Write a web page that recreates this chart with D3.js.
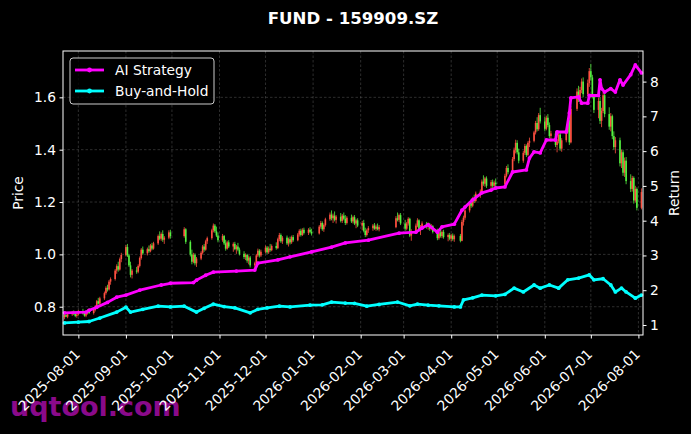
<!DOCTYPE html>
<html>
<head>
<meta charset="utf-8">
<script src="https://cdn.jsdelivr.net/npm/d3@7"></script>
<style>
  body { margin: 0; background: #000; }
  svg { display: block; font-family: "DejaVu Sans", sans-serif; }
</style>
</head>
<body>
<svg id="chart" width="691" height="434"></svg>
<script>
// data
const title = "FUND - 159909.SZ";
const monthTicks = ["2025-08-01","2025-09-01","2025-10-01","2025-11-01","2025-12-01","2026-01-01",
  "2026-02-01","2026-03-01","2026-04-01","2026-05-01","2026-06-01","2026-07-01","2026-08-01"];
const priceTicks = [0.8, 1.0, 1.2, 1.4, 1.6];
const returnTicks = [1, 2, 3, 4, 5, 6, 7, 8];
const seriesNames = ["AI Strategy", "Buy-and-Hold"];

// daily candles: date, open, high, low, close
const candles = [
  ["2025-07-23",.760,.772,.752,.768],["2025-07-24",.768,.778,.760,.762],["2025-07-25",.762,.775,.756,.771],
  ["2025-07-28",.771,.784,.765,.779],["2025-07-29",.779,.786,.768,.772],["2025-07-30",.772,.780,.760,.765],["2025-07-31",.765,.776,.758,.770],["2025-08-01",.770,.788,.766,.784],
  ["2025-08-04",.784,.792,.770,.774],["2025-08-05",.774,.782,.762,.766],["2025-08-06",.766,.778,.760,.775],["2025-08-07",.775,.790,.770,.786],["2025-08-08",.786,.794,.772,.776],
  ["2025-08-11",.776,.790,.770,.788],["2025-08-12",.788,.806,.782,.801],["2025-08-13",.801,.826,.796,.821],["2025-08-14",.821,.834,.808,.812],["2025-08-15",.812,.838,.806,.832],
  ["2025-08-18",.832,.858,.826,.852],["2025-08-19",.852,.878,.846,.872],["2025-08-20",.872,.884,.858,.866],["2025-08-21",.866,.902,.862,.896],["2025-08-22",.896,.912,.884,.906],
  ["2025-08-25",.906,.944,.900,.938],["2025-08-26",.938,.962,.926,.955],["2025-08-27",.955,.972,.934,.942],["2025-08-28",.942,.988,.938,.982],["2025-08-29",.982,1.006,.970,.998],
  ["2025-09-01",.998,1.036,.992,1.028],["2025-09-02",1.028,1.040,.990,.996],["2025-09-03",.996,1.002,.952,.958],["2025-09-04",.958,.972,.912,.922],["2025-09-05",.922,.944,.908,.938],
  ["2025-09-08",.938,.952,.926,.934],["2025-09-09",.934,.962,.928,.956],["2025-09-10",.956,.992,.950,.986],["2025-09-11",.986,1.024,.980,1.018],["2025-09-12",1.018,1.030,.998,1.004],
  ["2025-09-15",1.004,1.026,.996,1.020],["2025-09-16",1.020,1.034,1.006,1.012],["2025-09-17",1.012,1.040,1.008,1.034],["2025-09-18",1.034,1.044,1.016,1.022],["2025-09-19",1.022,1.048,1.018,1.042],
  ["2025-09-22",1.042,1.076,1.036,1.070],["2025-09-23",1.070,1.088,1.054,1.060],["2025-09-24",1.060,1.084,1.052,1.078],["2025-09-25",1.078,1.092,1.048,1.056],["2025-09-26",1.056,1.070,1.040,1.064],
  ["2025-09-29",1.064,1.092,1.058,1.084],["2025-09-30",1.084,1.094,1.060,1.070],
  ["2025-10-09",1.070,1.104,1.064,1.096],["2025-10-10",1.096,1.100,1.040,1.048],
  ["2025-10-13",1.048,1.054,.992,1.000],["2025-10-14",1.000,1.018,.962,.972],["2025-10-15",.972,1.006,.966,.998],["2025-10-16",.998,1.004,.958,.966],["2025-10-17",.966,.990,.952,.984],
  ["2025-10-20",.984,1.012,.978,1.006],["2025-10-21",1.006,1.036,1.000,1.030],["2025-10-22",1.030,1.040,1.010,1.018],["2025-10-23",1.018,1.056,1.014,1.050],["2025-10-24",1.050,1.068,1.040,1.062],
  ["2025-10-27",1.062,1.098,1.056,1.092],["2025-10-28",1.092,1.118,1.084,1.110],["2025-10-29",1.110,1.116,1.082,1.088],["2025-10-30",1.088,1.106,1.066,1.072],["2025-10-31",1.072,1.084,1.046,1.054],
  ["2025-11-03",1.054,1.078,1.048,1.070],["2025-11-04",1.070,1.074,1.036,1.042],["2025-11-05",1.042,1.056,1.014,1.022],["2025-11-06",1.022,1.052,1.018,1.046],["2025-11-07",1.046,1.054,1.024,1.030],
  ["2025-11-10",1.030,1.046,1.010,1.040],["2025-11-11",1.040,1.048,1.016,1.020],["2025-11-12",1.020,1.036,1.002,1.030],["2025-11-13",1.030,1.044,1.012,1.018],["2025-11-14",1.018,1.026,.996,1.002],
  ["2025-11-17",1.002,1.012,.982,.990],["2025-11-18",.990,1.004,.978,.998],["2025-11-19",.998,1.002,.968,.976],["2025-11-20",.976,.996,.962,.988],["2025-11-21",.988,.994,.950,.958],
  ["2025-11-24",.958,.972,.944,.966],["2025-11-25",.966,1.002,.960,.996],["2025-11-26",.996,1.022,.990,1.014],["2025-11-27",1.014,1.020,.988,.996],["2025-11-28",.996,1.018,.990,1.010],
  ["2025-12-01",1.010,1.034,1.004,1.026],["2025-12-02",1.026,1.032,1.002,1.008],["2025-12-03",1.008,1.030,1.002,1.022],["2025-12-04",1.022,1.040,1.010,1.016],["2025-12-05",1.016,1.038,1.012,1.032],
  ["2025-12-08",1.032,1.046,1.018,1.024],["2025-12-09",1.024,1.064,1.020,1.058],["2025-12-10",1.058,1.082,1.050,1.074],["2025-12-11",1.074,1.080,1.044,1.050],["2025-12-12",1.050,1.070,1.040,1.064],
  ["2025-12-15",1.064,1.072,1.036,1.042],["2025-12-16",1.042,1.064,1.030,1.058],["2025-12-17",1.058,1.068,1.038,1.046],["2025-12-18",1.046,1.072,1.040,1.066],["2025-12-19",1.066,1.074,1.048,1.054],
  ["2025-12-22",1.054,1.082,1.050,1.076],["2025-12-23",1.076,1.096,1.068,1.090],["2025-12-24",1.090,1.098,1.068,1.074],["2025-12-25",1.074,1.100,1.070,1.094],["2025-12-26",1.094,1.102,1.076,1.082],
  ["2025-12-29",1.082,1.100,1.074,1.094],["2025-12-30",1.094,1.104,1.080,1.086],["2025-12-31",1.086,1.098,1.072,1.080],
  ["2026-01-05",1.080,1.112,1.076,1.106],["2026-01-06",1.106,1.128,1.098,1.120],["2026-01-07",1.120,1.126,1.090,1.096],["2026-01-08",1.096,1.118,1.086,1.112],["2026-01-09",1.112,1.140,1.106,1.134],
  ["2026-01-12",1.134,1.160,1.128,1.152],["2026-01-13",1.152,1.168,1.130,1.138],["2026-01-14",1.138,1.156,1.120,1.148],["2026-01-15",1.148,1.164,1.126,1.132],["2026-01-16",1.132,1.150,1.118,1.144],
  ["2026-01-19",1.144,1.158,1.122,1.128],["2026-01-20",1.128,1.154,1.120,1.148],["2026-01-21",1.148,1.160,1.130,1.136],["2026-01-22",1.136,1.150,1.112,1.120],["2026-01-23",1.120,1.146,1.114,1.140],
  ["2026-01-26",1.140,1.152,1.120,1.126],["2026-01-27",1.126,1.148,1.118,1.142],["2026-01-28",1.142,1.150,1.112,1.118],["2026-01-29",1.118,1.136,1.100,1.130],["2026-01-30",1.130,1.138,1.104,1.110],
  ["2026-02-02",1.110,1.128,1.092,1.120],["2026-02-03",1.120,1.132,1.084,1.090],["2026-02-04",1.090,1.102,1.066,1.074],["2026-02-05",1.074,1.098,1.068,1.092],["2026-02-06",1.092,1.108,1.082,1.100],
  ["2026-02-09",1.100,1.116,1.090,1.110],["2026-02-10",1.110,1.120,1.094,1.098],["2026-02-11",1.098,1.114,1.090,1.106],["2026-02-12",1.106,1.118,1.092,1.096],["2026-02-13",1.096,1.112,1.088,1.104],
  ["2026-02-24",1.104,1.146,1.100,1.138],["2026-02-25",1.138,1.160,1.126,1.132],["2026-02-26",1.132,1.156,1.124,1.150],["2026-02-27",1.150,1.158,1.112,1.118],
  ["2026-03-02",1.118,1.132,1.090,1.098],["2026-03-03",1.098,1.124,1.092,1.118],["2026-03-04",1.118,1.142,1.110,1.136],["2026-03-05",1.136,1.140,1.066,1.072],["2026-03-06",1.072,1.096,1.052,1.088],
  ["2026-03-09",1.088,1.118,1.082,1.110],["2026-03-10",1.110,1.138,1.104,1.130],["2026-03-11",1.130,1.134,1.086,1.094],["2026-03-12",1.094,1.112,1.074,1.104],["2026-03-13",1.104,1.126,1.098,1.118],
  ["2026-03-16",1.118,1.124,1.098,1.106],["2026-03-17",1.106,1.122,1.094,1.114],["2026-03-18",1.114,1.120,1.090,1.098],["2026-03-19",1.098,1.116,1.092,1.108],["2026-03-20",1.108,1.112,1.080,1.086],
  ["2026-03-23",1.086,1.098,1.054,1.062],["2026-03-24",1.062,1.090,1.056,1.084],["2026-03-25",1.084,1.096,1.064,1.070],["2026-03-26",1.070,1.092,1.062,1.086],["2026-03-27",1.086,1.094,1.060,1.066],
  ["2026-03-30",1.066,1.080,1.050,1.074],["2026-03-31",1.074,1.082,1.054,1.060],["2026-04-01",1.060,1.078,1.050,1.072],["2026-04-02",1.072,1.080,1.052,1.058],["2026-04-03",1.058,1.076,1.048,1.070],
  ["2026-04-07",1.070,1.078,1.046,1.052],["2026-04-08",1.052,1.132,1.050,1.124],["2026-04-09",1.124,1.148,1.110,1.140],["2026-04-10",1.140,1.176,1.132,1.168],
  ["2026-04-13",1.168,1.204,1.160,1.196],["2026-04-14",1.196,1.212,1.178,1.186],["2026-04-15",1.186,1.220,1.180,1.214],["2026-04-16",1.214,1.228,1.196,1.204],["2026-04-17",1.204,1.240,1.198,1.232],
  ["2026-04-20",1.232,1.248,1.216,1.240],["2026-04-21",1.240,1.286,1.236,1.278],["2026-04-22",1.278,1.302,1.262,1.270],["2026-04-23",1.270,1.296,1.258,1.290],["2026-04-24",1.290,1.298,1.254,1.262],
  ["2026-04-27",1.262,1.284,1.246,1.276],["2026-04-28",1.276,1.286,1.254,1.262],["2026-04-29",1.262,1.282,1.250,1.274],["2026-04-30",1.274,1.290,1.258,1.268],
  ["2026-05-06",1.268,1.308,1.264,1.300],["2026-05-07",1.300,1.338,1.294,1.330],["2026-05-08",1.330,1.344,1.306,1.314],
  ["2026-05-11",1.314,1.372,1.308,1.364],["2026-05-12",1.364,1.408,1.356,1.398],["2026-05-13",1.398,1.438,1.386,1.426],["2026-05-14",1.426,1.436,1.382,1.390],["2026-05-15",1.390,1.404,1.348,1.358],
  ["2026-05-18",1.358,1.396,1.350,1.388],["2026-05-19",1.388,1.422,1.380,1.414],["2026-05-20",1.414,1.420,1.372,1.380],["2026-05-21",1.380,1.432,1.376,1.426],["2026-05-22",1.426,1.446,1.410,1.434],
  ["2026-05-25",1.434,1.472,1.428,1.466],["2026-05-26",1.466,1.510,1.458,1.502],["2026-05-27",1.502,1.524,1.470,1.478],["2026-05-28",1.478,1.540,1.472,1.532],["2026-05-29",1.532,1.560,1.500,1.508],
  ["2026-06-01",1.508,1.526,1.470,1.480],["2026-06-02",1.480,1.530,1.474,1.522],["2026-06-03",1.522,1.536,1.486,1.494],["2026-06-04",1.494,1.504,1.444,1.452],["2026-06-05",1.452,1.472,1.430,1.462],
  ["2026-06-08",1.462,1.470,1.410,1.418],["2026-06-09",1.418,1.440,1.390,1.432],["2026-06-10",1.432,1.466,1.424,1.458],["2026-06-11",1.458,1.464,1.396,1.404],["2026-06-12",1.404,1.444,1.392,1.436],
  ["2026-06-15",1.436,1.476,1.428,1.468],["2026-06-16",1.468,1.520,1.462,1.512],["2026-06-17",1.512,1.522,1.418,1.428],["2026-06-18",1.428,1.568,1.424,1.556],
  ["2026-06-22",1.556,1.634,1.548,1.622],["2026-06-23",1.622,1.644,1.582,1.594],["2026-06-24",1.594,1.640,1.586,1.628],["2026-06-25",1.628,1.672,1.616,1.660],["2026-06-26",1.660,1.676,1.600,1.612],
  ["2026-06-29",1.612,1.668,1.604,1.654],["2026-06-30",1.654,1.712,1.640,1.700],["2026-07-01",1.700,1.728,1.664,1.676],["2026-07-02",1.676,1.686,1.596,1.604],["2026-07-03",1.604,1.612,1.540,1.552],
  ["2026-07-06",1.552,1.598,1.520,1.586],["2026-07-07",1.586,1.600,1.498,1.510],["2026-07-08",1.510,1.560,1.486,1.548],["2026-07-09",1.548,1.620,1.540,1.608],["2026-07-10",1.608,1.614,1.524,1.536],
  ["2026-07-13",1.536,1.562,1.476,1.488],["2026-07-14",1.488,1.540,1.470,1.528],["2026-07-15",1.528,1.534,1.440,1.452],["2026-07-16",1.452,1.470,1.400,1.410],["2026-07-17",1.410,1.448,1.386,1.436],
  ["2026-07-20",1.436,1.446,1.336,1.348],["2026-07-21",1.348,1.400,1.330,1.390],["2026-07-22",1.390,1.398,1.300,1.312],["2026-07-23",1.312,1.370,1.296,1.358],["2026-07-24",1.358,1.372,1.268,1.280],
  ["2026-07-27",1.280,1.306,1.238,1.250],["2026-07-28",1.250,1.300,1.240,1.292],["2026-07-29",1.292,1.298,1.194,1.206],["2026-07-30",1.206,1.262,1.198,1.250],["2026-07-31",1.250,1.256,1.168,1.178],
  ["2026-08-03",1.178,1.252,1.172,1.238]
];

// cumulative return, right axis
const aiStrategy = [
  ["2025-07-23",1.35],["2025-08-06",1.37],["2025-08-08",1.42],["2025-08-13",1.51],["2025-08-20",1.65],["2025-08-26",1.80],
  ["2025-09-01",1.86],["2025-09-10",2.00],["2025-09-24",2.15],["2025-09-30",2.20],["2025-10-15",2.22],["2025-10-17",2.29],
  ["2025-10-23",2.43],["2025-10-28",2.52],["2025-11-12",2.55],["2025-11-24",2.58],["2025-11-26",2.78],["2025-12-09",2.87],
  ["2025-12-17",2.96],["2025-12-31",3.10],["2026-01-13",3.24],["2026-01-22",3.36],["2026-02-06",3.44],["2026-02-26",3.64],
  ["2026-03-09",3.67],["2026-03-13",3.79],["2026-03-17",3.88],["2026-03-23",3.67],["2026-03-26",3.82],["2026-04-03",3.90],
  ["2026-04-08",4.30],["2026-04-10",4.39],["2026-04-15",4.60],["2026-04-21",4.80],["2026-04-27",4.88],["2026-04-30",4.94],
  ["2026-05-06",4.97],["2026-05-11",5.40],["2026-05-20",5.46],["2026-05-22",5.80],["2026-05-25",5.98],["2026-05-29",5.95],
  ["2026-06-02",6.32],["2026-06-08",6.32],["2026-06-09",6.55],["2026-06-15",6.55],["2026-06-17",7.10],["2026-06-18",7.53],
  ["2026-06-23",7.56],["2026-06-25",7.38],["2026-06-29",7.38],["2026-06-30",7.60],["2026-07-06",7.60],["2026-07-07",8.05],
  ["2026-07-08",7.80],["2026-07-10",7.70],["2026-07-14",7.80],["2026-07-17",7.70],["2026-07-20",8.05],["2026-07-22",7.90],
  ["2026-07-27",8.20],["2026-07-30",8.48],["2026-08-03",8.25]
];
const buyAndHold = [
  ["2025-07-23",1.06],["2025-08-01",1.08],["2025-08-08",1.10],["2025-08-15",1.20],["2025-08-26",1.37],["2025-09-01",1.51],
  ["2025-09-04",1.37],["2025-09-12",1.45],["2025-09-22",1.54],["2025-09-30",1.52],["2025-10-09",1.54],["2025-10-17",1.37],
  ["2025-10-22",1.48],["2025-10-28",1.60],["2025-11-04",1.53],["2025-11-11",1.49],["2025-11-21",1.35],["2025-11-26",1.45],
  ["2025-12-02",1.49],["2025-12-10",1.54],["2025-12-17",1.52],["2025-12-30",1.57],["2026-01-07",1.58],["2026-01-13",1.66],
  ["2026-01-22",1.63],["2026-01-28",1.62],["2026-02-05",1.54],["2026-02-13",1.59],["2026-02-25",1.66],["2026-03-05",1.55],
  ["2026-03-10",1.60],["2026-03-17",1.57],["2026-03-24",1.55],["2026-04-03",1.52],["2026-04-07",1.52],["2026-04-09",1.72],
  ["2026-04-15",1.78],["2026-04-21",1.86],["2026-04-30",1.84],["2026-05-06",1.88],["2026-05-12",2.06],["2026-05-18",1.95],
  ["2026-05-25",2.15],["2026-05-29",2.06],["2026-06-04",2.15],["2026-06-10",2.06],["2026-06-16",2.30],["2026-06-23",2.35],
  ["2026-06-30",2.44],["2026-07-03",2.30],["2026-07-09",2.33],["2026-07-14",2.15],["2026-07-17",1.95],["2026-07-21",2.06],
  ["2026-07-24",1.95],["2026-07-30",1.77],["2026-08-03",1.86]
];

// layout
const svg = d3.select("#chart");
const W = 691, H = 434;
const m = { left: 63, right: 643, top: 51, bottom: 335 };
const parse = d3.utcParse("%Y-%m-%d");

svg.append("rect").attr("width", W).attr("height", H).attr("fill", "#000");

const x = d3.scaleUtc()
  .domain([parse("2025-07-22"), parse("2026-08-04")])
  .range([m.left, m.right]);
const yPrice = d3.scaleLinear().domain([0.692, 1.777]).range([m.bottom, m.top]);
const yRet = d3.scaleLinear().domain([0.712, 8.88]).range([m.bottom, m.top]);

const fontSize = 13.8;

// watermark (under the tick labels)
svg.append("text")
  .attr("x", 10).attr("y", 416)
  .attr("fill", "#8a0a8a")
  .style("font-size", "27px").style("font-weight", "bold")
  .text("uqtool.com");

// grid
const grid = svg.append("g");
grid.selectAll("line.v").data(monthTicks).join("line")
  .attr("x1", d => x(parse(d))).attr("x2", d => x(parse(d)))
  .attr("y1", m.top).attr("y2", m.bottom);
grid.selectAll("line.h").data(priceTicks).join("line")
  .attr("x1", m.left).attr("x2", m.right)
  .attr("y1", d => yPrice(d)).attr("y2", d => yPrice(d));
grid.selectAll("line")
  .attr("stroke", "#8a8a8a").attr("stroke-opacity", 0.55)
  .attr("stroke-width", 0.6).attr("stroke-dasharray", "2.5,2");

// candles (red = up, green = down)
const upColor = "#ff5040", downColor = "#55f040";
const bodyW = 1.6;
const cg = svg.append("g");
candles.forEach(([d, o, h, l, c]) => {
  const cx = x(parse(d));
  const col = c >= o ? upColor : downColor;
  cg.append("line")
    .attr("x1", cx).attr("x2", cx)
    .attr("y1", yPrice(h)).attr("y2", yPrice(l))
    .attr("stroke", col).attr("stroke-width", 0.8);
  const top = yPrice(Math.max(o, c)), bot = yPrice(Math.min(o, c));
  cg.append("rect")
    .attr("x", cx - bodyW / 2).attr("width", bodyW)
    .attr("y", top).attr("height", Math.max(0.8, bot - top))
    .attr("fill", col);
});

// strategy lines
const line = d3.line()
  .x(d => x(parse(d[0])))
  .y(d => yRet(d[1]));

function drawSeries(data, color) {
  svg.append("path")
    .datum(data)
    .attr("d", line)
    .attr("fill", "none")
    .attr("stroke", color)
    .attr("stroke-width", 2.8)
    .attr("stroke-linejoin", "round");
  svg.append("g").selectAll("circle").data(data).join("circle")
    .attr("cx", d => x(parse(d[0])))
    .attr("cy", d => yRet(d[1]))
    .attr("r", 1.9)
    .attr("fill", color);
}
drawSeries(buyAndHold, "#00ffff");
drawSeries(aiStrategy, "#ff00ff");

// frame
svg.append("rect")
  .attr("x", m.left).attr("y", m.top)
  .attr("width", m.right - m.left).attr("height", m.bottom - m.top)
  .attr("fill", "none").attr("stroke", "#fff").attr("stroke-width", 1);

// axes
function styleAxis(g) {
  g.select(".domain").remove();
  g.selectAll(".tick line").attr("stroke", "#fff");
  g.selectAll(".tick text").attr("fill", "#fff")
    .style("font-size", fontSize + "px").style("font-family", "DejaVu Sans");
}

const xAxis = svg.append("g")
  .attr("transform", `translate(0,${m.bottom})`)
  .call(d3.axisBottom(x)
    .tickValues(monthTicks.map(parse))
    .tickFormat(d3.utcFormat("%Y-%m-%d"))
    .tickSize(3.5).tickPadding(3.5));
styleAxis(xAxis);
xAxis.selectAll(".tick text")
  .attr("text-anchor", "end")
  .attr("dy", null)
  .attr("y", null)
  .attr("transform", "translate(2,20) rotate(-45)");

const yLeft = svg.append("g")
  .attr("transform", `translate(${m.left},0)`)
  .call(d3.axisLeft(yPrice).tickValues(priceTicks).tickFormat(d3.format(".1f"))
    .tickSize(3.5).tickPadding(3.5));
styleAxis(yLeft);

const yRight = svg.append("g")
  .attr("transform", `translate(${m.right},0)`)
  .call(d3.axisRight(yRet).tickValues(returnTicks).tickFormat(d3.format("d"))
    .tickSize(3.5).tickPadding(3.5));
styleAxis(yRight);

// axis labels
svg.append("text")
  .attr("transform", `translate(23,${(m.top + m.bottom) / 2}) rotate(-90)`)
  .attr("text-anchor", "middle").attr("fill", "#fff")
  .style("font-size", fontSize + "px").text("Price");
svg.append("text")
  .attr("transform", `translate(679,${(m.top + m.bottom) / 2}) rotate(-90)`)
  .attr("text-anchor", "middle").attr("fill", "#fff")
  .style("font-size", fontSize + "px").text("Return");

// title
svg.append("text")
  .attr("x", 353).attr("y", 24)
  .attr("text-anchor", "middle").attr("fill", "#fff")
  .style("font-size", "16.6px").style("font-weight", "bold")
  .text(title);

// legend
const lg = svg.append("g").attr("transform", "translate(70,58)");
lg.append("rect")
  .attr("width", 144).attr("height", 46).attr("rx", 3)
  .attr("fill", "#000").attr("fill-opacity", 0.8)
  .attr("stroke", "#cccccc").attr("stroke-width", 1);
[["#ff00ff", seriesNames[0]], ["#00ffff", seriesNames[1]]].forEach(([col, name], i) => {
  const ly = 12 + i * 21;
  lg.append("line").attr("x1", 5).attr("x2", 34).attr("y1", ly).attr("y2", ly)
    .attr("stroke", col).attr("stroke-width", 2.8);
  lg.append("circle").attr("cx", 19.5).attr("cy", ly).attr("r", 2.4).attr("fill", col);
  lg.append("text").attr("x", 45).attr("y", ly).attr("dy", "0.35em")
    .attr("fill", "#fff").style("font-size", fontSize + "px").text(name);
});
</script>
</body>
</html>
